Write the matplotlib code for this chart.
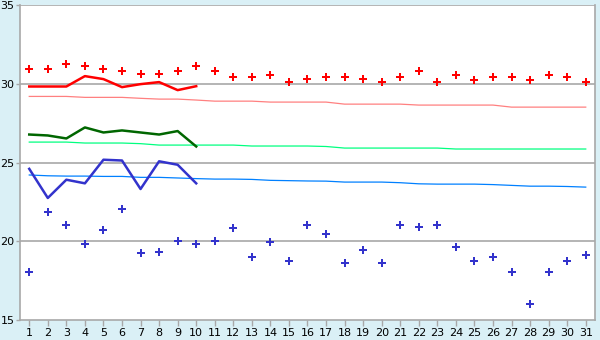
import matplotlib
matplotlib.use('Agg')
from matplotlib import pyplot as plt

# 日期
days = list(range(1, 32))

# 最高温度 (散点)
high_pts = [30.94, 30.94, 31.25, 31.13, 30.94, 30.81, 30.62, 30.62, 30.81, 31.13,
            30.81, 30.43, 30.43, 30.56, 30.11, 30.30, 30.43, 30.43, 30.30, 30.11,
            30.43, 30.81, 30.11, 30.56, 30.24, 30.43, 30.43, 30.24, 30.56, 30.43, 30.11]
# 最低温度 (散点)
low_pts = [18.05, 21.86, 21.03, 19.81, 20.70, 22.03, 19.24, 19.30, 20.00, 19.81,
           20.00, 20.82, 18.98, 19.94, 18.74, 21.03, 20.44, 18.62, 19.43, 18.62,
           21.03, 20.89, 21.03, 19.62, 18.74, 18.98, 18.05, 16.02, 18.05, 18.74, 19.11]

# 实测 (前10天)
high_line = [29.83, 29.83, 29.83, 30.49, 30.30, 29.79, 29.98, 30.11, 29.60, 29.85]
mean_line = [26.78, 26.72, 26.53, 27.23, 26.91, 27.04, 26.91, 26.78, 27.00, 26.02]
low_line = [24.60, 22.75, 23.91, 23.68, 25.18, 25.13, 23.32, 25.08, 24.86, 23.68]

# 常年值
high_norm = [29.20, 29.20, 29.20, 29.14, 29.14, 29.14, 29.08, 29.03, 29.03, 28.97,
             28.90, 28.90, 28.90, 28.84, 28.84, 28.84, 28.84, 28.71, 28.71, 28.71,
             28.71, 28.65, 28.65, 28.65, 28.65, 28.65, 28.52, 28.52, 28.52, 28.52, 28.52]
mean_norm = [26.30, 26.30, 26.30, 26.24, 26.24, 26.24, 26.20, 26.11, 26.11, 26.11,
             26.11, 26.11, 26.05, 26.05, 26.05, 26.05, 26.02, 25.92, 25.92, 25.92,
             25.92, 25.92, 25.92, 25.86, 25.86, 25.86, 25.86, 25.86, 25.86, 25.86, 25.86]
low_norm = [24.21, 24.16, 24.14, 24.14, 24.12, 24.12, 24.06, 24.06, 24.02, 23.98,
            23.95, 23.95, 23.93, 23.87, 23.85, 23.83, 23.82, 23.76, 23.76, 23.76,
            23.72, 23.65, 23.63, 23.63, 23.63, 23.60, 23.55, 23.50, 23.50, 23.48, 23.44]

bg = '#DAF0F6'
grey = '#A8A8A8'

fig = plt.figure(figsize=(6, 3.4), dpi=100, facecolor=bg)
ax = fig.add_axes([0.0333, 0.0588, 0.9584, 0.9262])
ax.set_facecolor('white')

for v in [20, 25, 30, 35]:
    ax.axhline(v, color=grey, lw=1.2, zorder=1)

ax.plot(days, high_norm, color='#FF8080', lw=0.9, zorder=2)
ax.plot(days, mean_norm, color='#00FF80', lw=0.9, zorder=2)
ax.plot(days, low_norm, color='#0080FF', lw=0.9, zorder=2)

ax.plot(days[:10], high_line, color='#FF0000', lw=1.8, zorder=3)
ax.plot(days[:10], mean_line, color='#006600', lw=1.8, zorder=3)
ax.plot(days[:10], low_line, color='#3333CC', lw=1.8, zorder=3)

ax.plot(days, high_pts, ls='none', marker='P', ms=5.5, mew=0, color='#FF0000', zorder=4)
ax.plot(days, low_pts, ls='none', marker='P', ms=5.5, mew=0, color='#3333CC', zorder=4)

ax.set_xlim(0.5, 31.5)
ax.set_ylim(15, 35)
ax.set_xticks(days)
ax.set_yticks([15, 20, 25, 30, 35])

for s in ['left', 'bottom', 'right']:
    ax.spines[s].set_color(grey)
    ax.spines[s].set_linewidth(1.2)
ax.spines['top'].set_visible(False)

ax.tick_params(axis='x', colors=grey, labelcolor='black', labelsize=8, length=4, width=1, pad=2)
ax.tick_params(axis='y', colors=grey, labelcolor='black', labelsize=8, length=3, width=1, pad=1)

plt.savefig('out.png', dpi=100, facecolor=bg)
